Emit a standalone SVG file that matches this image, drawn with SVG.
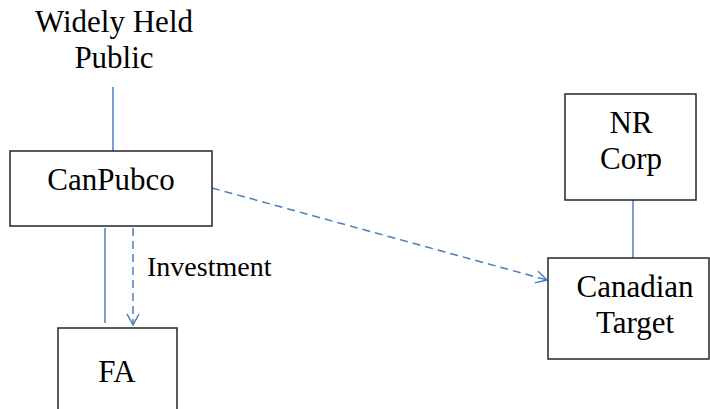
<svg xmlns="http://www.w3.org/2000/svg" width="710" height="409" viewBox="0 0 710 409">
<style>
.box{fill:#fff;stroke:#262626;stroke-width:1.5}
text{font-family:'Liberation Serif','Times New Roman',Tinos,'DejaVu Serif',serif;fill:#000}
.t{font-size:31px;text-anchor:middle}
.lbl{font-size:28px}
.ln{stroke:#4a7ebb;stroke-width:1.5;fill:none}
.dash{stroke-dasharray:8 5}
</style>
<defs>
<marker id="arr" markerWidth="14" markerHeight="14" refX="12" refY="7" orient="auto" markerUnits="userSpaceOnUse">
<path d="M1,1 L12,7 L1,13" fill="none" stroke="#4a7ebb" stroke-width="1.5"/>
</marker>
</defs>
<rect width="710" height="409" fill="#fff"/>
<g id="connectors">
<line class="ln" x1="113" y1="87" x2="113" y2="151"/>
<line class="ln" x1="105" y1="228" x2="105" y2="323"/>
<line class="ln dash" x1="133" y1="228" x2="133" y2="325" marker-end="url(#arr)"/>
<line class="ln dash" x1="212" y1="188" x2="547" y2="280" marker-end="url(#arr)"/>
<line class="ln" x1="633" y1="200" x2="633" y2="258"/>
<text class="lbl" x="147" y="276" font-family="Liberation Serif, serif">Investment</text>
</g>
<g id="widely-held-public">
<text class="t" x="114" y="32" font-family="Liberation Serif, serif">Widely Held</text>
<text class="t" x="114" y="68" font-family="Liberation Serif, serif">Public</text>
</g>
<g id="canpubco">
<rect class="box" x="10" y="151" width="202" height="75"/>
<text class="t" x="111" y="190" font-family="Liberation Serif, serif">CanPubco</text>
</g>
<g id="fa">
<rect class="box" x="58" y="328" width="119" height="90"/>
<text class="t" x="117" y="382" font-family="Liberation Serif, serif">FA</text>
</g>
<g id="nr-corp">
<rect class="box" x="565" y="94" width="131" height="106"/>
<text class="t" x="631" y="133" font-family="Liberation Serif, serif">NR</text>
<text class="t" x="631" y="169" font-family="Liberation Serif, serif">Corp</text>
</g>
<g id="canadian-target">
<rect class="box" x="548" y="258" width="161" height="101"/>
<text class="t" x="635" y="297" font-family="Liberation Serif, serif">Canadian</text>
<text class="t" x="635" y="333" font-family="Liberation Serif, serif">Target</text>
</g>
</svg>
